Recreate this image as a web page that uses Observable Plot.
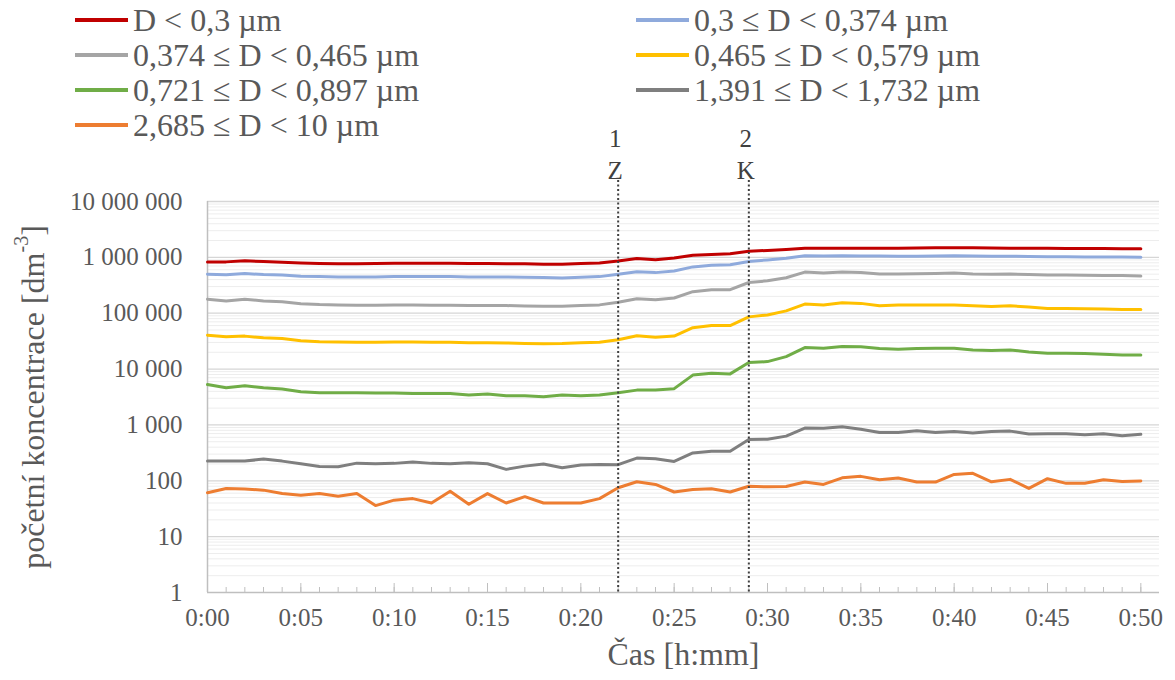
<!DOCTYPE html>
<html><head><meta charset="utf-8">
<script src="https://cdn.jsdelivr.net/npm/d3@7"></script>
<script src="https://cdn.jsdelivr.net/npm/@observablehq/plot@0.6"></script>
<style>
body{margin:0;background:#fff;font-family:"Liberation Serif","Times New Roman",serif;}
#wrap{position:relative;width:1175px;height:680px;overflow:hidden;}
#chart{position:absolute;left:0;top:0;}
#legend{position:absolute;left:0;top:0;width:1175px;height:145px;}
.item{position:absolute;display:flex;align-items:center;height:36px;font-size:32px;color:#595959;white-space:nowrap;line-height:36px;}
.item .sw{display:inline-block;width:53px;height:4px;margin-right:5px;}
</style></head><body>
<div id="wrap"><div id="chart"></div><div id="legend"></div></div>
<script>
// time categories (minutes from start)
const minutes = [0,1,2,3,4,5,6,7,8,9,10,11,12,13,14,15,16,17,18,19,20,21,22,23,24,25,26,27,28,29,30,31,32,33,34,35,36,37,38,39,40,41,42,43,44,45,46,47,48,49,50];
const xTickMinutes = [0,5,10,15,20,25,30,35,40,45,50];
const xTickLabels = ["0:00","0:05","0:10","0:15","0:20","0:25","0:30","0:35","0:40","0:45","0:50"];
const yTicks = [1,10,100,1000,10000,100000,1000000,10000000];

const seriesNames = ["D < 0,3 µm","0,3 ≤ D < 0,374 µm","0,374 ≤ D < 0,465 µm","0,465 ≤ D < 0,579 µm","0,721 ≤ D < 0,897 µm","1,391 ≤ D < 1,732 µm","2,685 ≤ D < 10 µm"];
const seriesColors = ["#C00000","#8FAADC","#A5A5A5","#FFC000","#70AD47","#7F7F7F","#ED7D31"];

const sD03 = [830e3,830e3,870e3,840e3,815e3,790e3,775e3,765e3,765e3,775e3,785e3,785e3,785e3,785e3,775e3,775e3,765e3,765e3,755e3,755e3,775e3,795e3,860e3,950e3,905e3,975e3,1.09e6,1.13e6,1.16e6,1.29e6,1.33e6,1.38e6,1.45e6,1.45e6,1.46e6,1.45e6,1.45e6,1.45e6,1.47e6,1.48e6,1.49e6,1.48e6,1.47e6,1.46e6,1.45e6,1.45e6,1.44e6,1.44e6,1.44e6,1.43e6,1.43e6];
const s0374 = [500e3,487e3,512e3,492e3,481e3,460e3,452e3,446e3,446e3,446e3,452e3,452e3,452e3,452e3,446e3,446e3,446e3,441e3,435e3,429e3,441e3,452e3,500e3,555e3,533e3,570e3,675e3,720e3,740e3,845e3,900e3,960e3,1.07e6,1.06e6,1.07e6,1.06e6,1.06e6,1.05e6,1.05e6,1.06e6,1.07e6,1.06e6,1.05e6,1.05e6,1.04e6,1.03e6,1.03e6,1.02e6,1.02e6,1.01e6,1.00e6];
const s0465 = [178e3,166e3,178e3,166e3,161e3,148e3,143e3,141e3,139e3,139e3,141e3,141e3,139e3,139e3,137e3,137e3,137e3,135e3,133e3,133e3,137e3,141e3,157e3,182e3,175e3,187e3,243e3,264e3,264e3,355e3,380e3,432e3,545e3,525e3,545e3,538e3,505e3,505e3,510e3,515e3,527e3,505e3,498e3,505e3,492e3,482e3,482e3,476e3,471e3,471e3,462e3];
const s0579 = [40.5e3,37.8e3,38.9e3,36.2e3,35.1e3,32e3,30.9e3,30.5e3,30.1e3,30.1e3,30.5e3,30.5e3,30.1e3,30.1e3,29.7e3,29.7e3,29.3e3,28.7e3,28.3e3,28.7e3,29.7e3,30.1e3,33.5e3,39.5e3,37e3,39e3,55e3,60e3,60e3,86e3,93e3,110e3,146e3,140e3,154e3,150e3,136e3,140e3,140e3,140e3,140e3,136e3,132e3,136e3,129e3,122e3,122e3,120e3,119e3,117e3,117e3];
const s0897 = [5300,4640,5040,4640,4400,3940,3780,3780,3780,3730,3730,3670,3670,3670,3430,3580,3340,3340,3200,3430,3340,3430,3780,4200,4200,4460,7800,8400,8200,13100,13600,16700,24300,23600,25300,25000,23300,22600,23300,23600,23600,22000,21400,22000,20300,19200,19200,19000,18500,17900,17900];
const s1732 = [225,225,225,245,225,202,181,178,207,202,205,216,205,202,210,202,160,183,199,171,191,196,194,255,248,222,315,337,337,550,555,630,880,870,930,840,730,730,790,730,760,715,760,775,690,695,695,670,695,640,680];
const s10 = [61,73,71,68,59,55,59,53,59,36,45,48,40,65,38,59,40,52,40,40,40,48,75,96,86,63,70,72,63,80,78,79,95,86,113,120,104,112,95,95,130,136,96,106,73,109,90,90,104,97,99];
const seriesValues = [sD03,s0374,s0465,s0579,s0897,s1732,s10];

const events = [{t:22, num:"1", code:"Z"},{t:29, num:"2", code:"K"}];
const xTitle = "Čas [h:mm]";
const yTitleMain = "početní koncentrace [dm";
const yTitleSup = "-3";

const data = seriesNames.flatMap((name, si) => seriesValues[si].map((v, i) => ({name, t: minutes[i], v})));
const minorGrid = yTicks.slice(0, -1).flatMap(d => [2,3,4,5,6,7,8,9].map(k => d * k));
const majorTicks = xTickMinutes;
const fmtY = v => d3.format(",")(v).replace(/,/g, " ");
const plotH = 680 - 201 - 88;
const SERIF = "Liberation Serif, Times New Roman, serif";

const plot = Plot.plot({
  width: 1175, height: 680,
  marginLeft: 207, marginRight: 16, marginTop: 201, marginBottom: 88,
  style: {fontFamily: SERIF, fontSize: "25px", color: "#595959", background: "transparent", overflow: "visible"},
  x: {domain: [0, 51]},
  y: {type: "log", domain: [1, 1e7]},
  color: {domain: seriesNames, range: seriesColors},
  marks: [
    Plot.ruleY(minorGrid, {stroke: "#ededed", strokeWidth: 1}),
    Plot.ruleY(yTicks.slice(1), {stroke: "#d6d6d6", strokeWidth: 1.3}),
    Plot.ruleX([0], {stroke: "#bfbfbf", strokeWidth: 1.5}),
    Plot.ruleY([1], {stroke: "#bfbfbf", strokeWidth: 1.5}),
    Plot.ruleX(minutes, {x: d => d, stroke: "#bfbfbf", insetTop: plotH - 5}),
    Plot.ruleX(majorTicks, {x: d => d, stroke: "#bfbfbf", insetTop: plotH - 9}),
    Plot.axisX({ticks: xTickMinutes, tickFormat: d => xTickLabels[xTickMinutes.indexOf(d)], tickSize: 0, tickPadding: 16, fontSize: 25, fontFamily: SERIF, label: null}),
    Plot.axisY({ticks: yTicks, tickFormat: fmtY, tickSize: 0, tickPadding: 25, fontSize: 25, fontFamily: SERIF, label: null}),
    Plot.line(data, {x: "t", y: "v", z: "name", stroke: "name", strokeWidth: 3, strokeLinejoin: "round", strokeLinecap: "round"}),
    Plot.ruleX(events, {x: "t", stroke: "#404040", strokeWidth: 2, strokeDasharray: "2,2.5", insetTop: -21}),
    Plot.text(events, {x: "t", text: "num", frameAnchor: "top", dy: -72, dx: -3, fontSize: 25, fontFamily: SERIF, fill: "#404040"}),
    Plot.text(events, {x: "t", text: "code", frameAnchor: "top", dy: -40, dx: -3, fontSize: 25, fontFamily: SERIF, fill: "#404040"}),
    Plot.text([xTitle], {text: d => d, frameAnchor: "bottom", dy: 72, fontSize: 32, fontFamily: SERIF, fill: "#595959"})
  ]
});
document.getElementById("chart").appendChild(plot);

const svg = d3.select(plot);
svg.attr("font-family", SERIF).style("font-family", SERIF);
const yt = svg.append("text")
  .attr("transform", "translate(33,397) rotate(-90)")
  .attr("text-anchor", "middle")
  .attr("dominant-baseline", "central")
  .attr("font-family", SERIF)
  .attr("font-size", 32)
  .attr("fill", "#595959");
yt.append("tspan").text(yTitleMain);
yt.append("tspan").attr("dy", -12).attr("font-size", 20).text(yTitleSup);
yt.append("tspan").attr("dy", 12).text("]");
svg.selectAll("text").attr("font-family", SERIF).style("font-family", SERIF);

// legend
const legendOrder = [[0, 75, 20],[2, 75, 55],[4, 75, 90],[6, 75, 125],[1, 636, 20],[3, 636, 55],[5, 636, 90]];
const leg = document.getElementById("legend");
legendOrder.forEach(([si, left, cy]) => {
  const it = document.createElement("div");
  it.className = "item";
  it.style.left = left + "px";
  it.style.top = (cy - 18) + "px";
  const sw = document.createElement("span");
  sw.className = "sw";
  sw.style.background = seriesColors[si];
  it.appendChild(sw);
  it.appendChild(document.createTextNode(seriesNames[si]));
  leg.appendChild(it);
});
</script>
</body></html>
